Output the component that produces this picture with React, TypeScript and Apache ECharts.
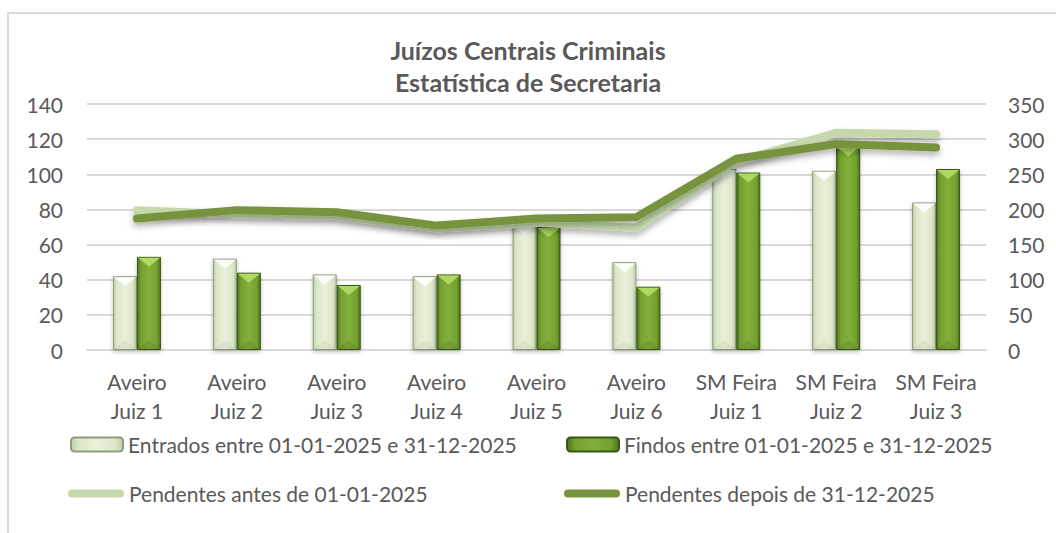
import React, { useEffect, useRef } from "react";
import * as echarts from "echarts";

const categories = [
  "Aveiro\nJuiz 1",
  "Aveiro\nJuiz 2",
  "Aveiro\nJuiz 3",
  "Aveiro\nJuiz 4",
  "Aveiro\nJuiz 5",
  "Aveiro\nJuiz 6",
  "SM Feira\nJuiz 1",
  "SM Feira\nJuiz 2",
  "SM Feira\nJuiz 3",
];
const entrados = [42, 52, 43, 42, 71, 50, 103, 102, 84];
const findos = [53, 44, 37, 43, 70, 36, 101, 116, 103];
const pendentesAntes = [199, 193, 191, 173, 181, 174, 268, 309, 307];
const pendentesDepois = [187, 199, 196, 177, 187, 189, 272, 293, 288];

const names = [
  "Entrados entre 01-01-2025 e 31-12-2025",
  "Findos entre 01-01-2025 e 31-12-2025",
  "Pendentes antes de 01-01-2025",
  "Pendentes depois de 31-12-2025",
];

const FONT = "Lato, 'Noto Sans', sans-serif";
const TXT = "#595959";
const BAR_W = 24;
const CAPSULE = "path://M4,0 H52 A4,4 0 0 1 52,8 H4 A4,4 0 0 1 4,0 Z";

function bevel(side: number, fill: string, bottomFill: string) {
  return (params: any, api: any) => {
    const c = api.coord([api.value(0), api.value(1)]);
    const base = api.coord([api.value(0), 0]);
    const x0 = side < 0 ? c[0] - BAR_W : c[0];
    const x1 = x0 + BAR_W;
    const xm = (x0 + x1) / 2;
    const top = c[1] + 1;
    const bot = base[1] - 1;
    const d = 9;
    return {
      type: "group",
      children: [
        {
          type: "polygon",
          shape: { points: [[x0 + 1, top], [x1 - 1, top], [xm, top + d]] },
          style: { fill },
          silent: true,
        },
        {
          type: "polygon",
          shape: { points: [[x0 + 1, bot], [x1 - 1, bot], [xm, bot - d]] },
          style: { fill: bottomFill },
          silent: true,
        },
      ],
    };
  };
}

export default function App() {
  const ref = useRef<HTMLDivElement>(null);
  useEffect(() => {
    if (!ref.current) return;
    const chart = echarts.init(ref.current, undefined, { renderer: "svg" });
    const lightGrad = new echarts.graphic.LinearGradient(0, 0, 1, 0, [
      { offset: 0, color: "#bfcfa7" },
      { offset: 0.15, color: "#dbe7c9" },
      { offset: 0.5, color: "#e9f1dc" },
      { offset: 0.85, color: "#dbe7c9" },
      { offset: 1, color: "#bfcfa7" },
    ]);
    const darkGrad = new echarts.graphic.LinearGradient(0, 0, 1, 0, [
      { offset: 0, color: "#4e711c" },
      { offset: 0.15, color: "#74a030" },
      { offset: 0.5, color: "#82b03a" },
      { offset: 0.85, color: "#74a030" },
      { offset: 1, color: "#4e711c" },
    ]);
    const legendText = { fontFamily: FONT, fontSize: 21, color: TXT };
    const mkLegend = (name: string, left: number, top: number, isLine: boolean) => ({
      data: [name],
      left,
      top,
      padding: 0,
      itemWidth: isLine ? 56 : 52,
      itemHeight: isLine ? 8 : 14,
      itemGap: 0,
      icon: isLine ? CAPSULE : undefined,
      textStyle: legendText,
      selectedMode: false,
    });
    const dataPairs = (arr: number[]) => arr.map((v, i) => [i, v]);
    chart.setOption({
      animation: false,
      textStyle: { fontFamily: FONT },
      title: {
        text: "Juízos Centrais Criminais\nEstatística de Secretaria",
        left: "center",
        top: 34,
        padding: [0, 0, 0, 16],
        textStyle: {
          fontFamily: FONT,
          fontSize: 25,
          fontWeight: "bold",
          color: TXT,
          lineHeight: 32,
        },
      },
      graphic: [
        {
          type: "rect",
          shape: { x: 8, y: 13, width: 1100, height: 600 },
          style: { fill: "none", stroke: "#d9d9d9", lineWidth: 2 },
          silent: true,
        },
      ],
      legend: [
        mkLegend(names[0], 70, 434, false),
        mkLegend(names[1], 566, 434, false),
        mkLegend(names[2], 68, 483, true),
        mkLegend(names[3], 564, 483, true),
      ],
      grid: { left: 87, right: 70, top: 104, bottom: 183 },
      xAxis: {
        type: "category",
        data: categories,
        axisLine: { show: true, lineStyle: { color: "#d9d9d9", width: 2 } },
        axisTick: { show: false },
        axisLabel: {
          fontFamily: FONT,
          fontSize: 21,
          color: TXT,
          lineHeight: 29,
          margin: 17,
          interval: 0,
        },
      },
      yAxis: [
        {
          type: "value",
          min: 0,
          max: 140,
          interval: 20,
          axisLine: { show: false },
          axisTick: { show: false },
          splitLine: { lineStyle: { color: "#d9d9d9", width: 2 } },
          axisLabel: { fontFamily: FONT, fontSize: 21, color: TXT, margin: 24 },
        },
        {
          type: "value",
          min: 0,
          max: 350,
          interval: 50,
          axisLine: { show: false },
          axisTick: { show: false },
          splitLine: { show: false },
          axisLabel: { fontFamily: FONT, fontSize: 21, color: TXT, margin: 22 },
        },
      ],
      series: [
        {
          name: names[0],
          type: "bar",
          data: entrados,
          barWidth: BAR_W,
          barGap: "0%",
          itemStyle: {
            color: lightGrad,
            borderColor: "#8d9b7e",
            borderWidth: 1,
            shadowColor: "rgba(0,0,0,0.25)",
            shadowBlur: 4,
            shadowOffsetY: 2,
          },
          z: 2,
        },
        {
          name: names[1],
          type: "bar",
          data: findos,
          barWidth: BAR_W,
          barGap: "0%",
          itemStyle: {
            color: darkGrad,
            borderColor: "#3b5416",
            borderWidth: 1,
            shadowColor: "rgba(0,0,0,0.25)",
            shadowBlur: 4,
            shadowOffsetY: 2,
          },
          z: 2,
        },
        {
          type: "custom",
          data: dataPairs(entrados),
          renderItem: bevel(-1, "rgba(255,255,255,0.85)", "rgba(160,175,140,0.18)"),
          silent: true,
          tooltip: { show: false },
          z: 2.5,
        },
        {
          type: "custom",
          data: dataPairs(findos),
          renderItem: bevel(1, "#b0d862", "rgba(60,90,20,0.18)"),
          silent: true,
          tooltip: { show: false },
          z: 2.5,
        },
        {
          name: names[2],
          type: "line",
          yAxisIndex: 1,
          data: pendentesAntes,
          showSymbol: false,
          symbol: "none",
          itemStyle: { color: "#c6d9ad" },
          lineStyle: {
            color: "#c6d9ad",
            width: 8,
            cap: "round",
            join: "round",
            shadowColor: "rgba(0,0,0,0.3)",
            shadowBlur: 6,
            shadowOffsetY: 4,
          },
          z: 3,
        },
        {
          name: names[3],
          type: "line",
          yAxisIndex: 1,
          data: pendentesDepois,
          showSymbol: false,
          symbol: "none",
          itemStyle: { color: "#77933c" },
          lineStyle: {
            color: "#77933c",
            width: 8,
            cap: "round",
            join: "round",
            shadowColor: "rgba(0,0,0,0.3)",
            shadowBlur: 6,
            shadowOffsetY: 4,
          },
          z: 4,
        },
      ],
    });
    return () => chart.dispose();
  }, []);
  return (
    <div
      ref={ref}
      style={{ position: "fixed", left: 0, top: 0, width: 1056, height: 533, background: "#fff" }}
    />
  );
}
